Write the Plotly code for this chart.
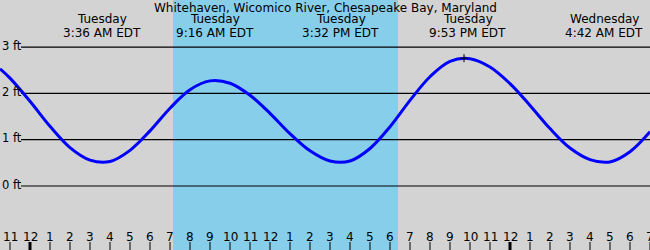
import plotly.graph_objects as go

# ---- data (hours from Tuesday 00:00 local, heights in ft) ----
hours = [-1.5, -1, 0, 1, 2, 3, 4, 5, 6, 7, 8, 9, 10, 11, 12, 13, 14, 15,
         16, 17, 18, 19, 20, 21, 22, 23, 24, 25, 26, 27, 28, 29, 30, 31]
heights = [2.53, 2.33, 1.83, 1.29, 0.83, 0.56, 0.53, 0.77, 1.19, 1.68, 2.08, 2.27,
           2.22, 1.96, 1.57, 1.13, 0.76, 0.54, 0.54, 0.81, 1.28, 1.85, 2.36, 2.69,
           2.75, 2.57, 2.21, 1.74, 1.24, 0.82, 0.57, 0.52, 0.74, 1.17]

event_hours = [3.6, 9.267, 15.533, 21.883, 28.7]
event_days = ["Tuesday", "Tuesday", "Tuesday", "Tuesday", "Wednesday"]
event_times = ["3:36 AM EDT", "9:16 AM EDT", "3:32 PM EDT", "9:53 PM EDT", "4:42 AM EDT"]

high_mark_hour = 21.7
high_mark_height = 2.76

sunrise = 7.15
sunset = 18.4

ft_levels = [0, 1, 2, 3]
ft_labels = ["0 ft", "1 ft", "2 ft", "3 ft"]

tick_hours = list(range(-1, 32))
tick_labels = ["11", "12", "1", "2", "3", "4", "5", "6", "7", "8", "9", "10", "11",
               "12", "1", "2", "3", "4", "5", "6", "7", "8", "9", "10", "11",
               "12", "1", "2", "3", "4", "5", "6", "7"]
midnights = [0, 24]

title = "Whitehaven, Wicomico River, Chesapeake Bay, Maryland"

# ---- figure ----
W, H = 650, 250
XR = [-1.5, 31]
YR = [-1.382, 4.017]
FONT = "DejaVu Sans"

fig = go.Figure()
fig.add_trace(go.Scatter(x=hours, y=heights, mode="lines",
                         line=dict(color="#0000ff", width=3, shape="spline", smoothing=1),
                         hoverinfo="skip", showlegend=False))

shapes = []
# daylight band
shapes.append(dict(type="rect", xref="x", yref="paper", x0=sunrise, x1=sunset, y0=0, y1=1,
                   fillcolor="#87ceeb", line=dict(width=0), layer="below"))
# gridlines
for lv in ft_levels:
    shapes.append(dict(type="line", xref="x", yref="y", x0=-0.45, x1=XR[1], y0=lv, y1=lv,
                       line=dict(color="black", width=1.2), layer="below"))
# hour ticks
for h in tick_hours:
    shapes.append(dict(type="line", xref="x", yref="paper", x0=h, x1=h, y0=0, y1=8 / H,
                       line=dict(color="black", width=3 if h in midnights else 1)))
# high tide marker
dx = 0.2
dy = 4 / 46.3
shapes.append(dict(type="line", xref="x", yref="y", x0=high_mark_hour, x1=high_mark_hour,
                   y0=high_mark_height - dy, y1=high_mark_height + dy,
                   line=dict(color="black", width=1)))
shapes.append(dict(type="line", xref="x", yref="y", x0=high_mark_hour - dx, x1=high_mark_hour + dx,
                   y0=high_mark_height, y1=high_mark_height,
                   line=dict(color="black", width=1)))

annotations = []
annotations.append(dict(text=title, xref="paper", yref="paper", x=0.5, y=1 - 7.5 / H,
                        xanchor="center", yanchor="middle", showarrow=False,
                        font=dict(family=FONT, size=12, color="black")))
for h, d, t in zip(event_hours, event_days, event_times):
    annotations.append(dict(text=d, xref="x", yref="paper", x=h, y=1 - 19.5 / H,
                            xanchor="center", yanchor="middle", showarrow=False,
                            font=dict(family=FONT, size=12, color="black")))
    annotations.append(dict(text=t, xref="x", yref="paper", x=h, y=1 - 32.5 / H,
                            xanchor="center", yanchor="middle", showarrow=False,
                            font=dict(family=FONT, size=12, color="black")))
for lv, lab in zip(ft_levels, ft_labels):
    annotations.append(dict(text=lab, xref="paper", yref="y", x=0, y=lv + 0.03,
                            xanchor="left", yanchor="middle", showarrow=False,
                            font=dict(family=FONT, size=11.5, color="black")))
for h, lab in zip(tick_hours, tick_labels):
    annotations.append(dict(text=lab, xref="x", yref="paper", x=h, y=1 - 236.5 / H,
                            xanchor="center", yanchor="middle", showarrow=False,
                            font=dict(family=FONT, size=12, color="black")))

fig.update_layout(
    width=W, height=H, margin=dict(l=0, r=0, t=0, b=0, pad=0),
    paper_bgcolor="#d3d3d3", plot_bgcolor="#d3d3d3",
    xaxis=dict(range=XR, visible=False, fixedrange=True),
    yaxis=dict(range=YR, visible=False, fixedrange=True),
    shapes=shapes, annotations=annotations, showlegend=False,
)
fig.write_html("out.html", config={"displayModeBar": False})
